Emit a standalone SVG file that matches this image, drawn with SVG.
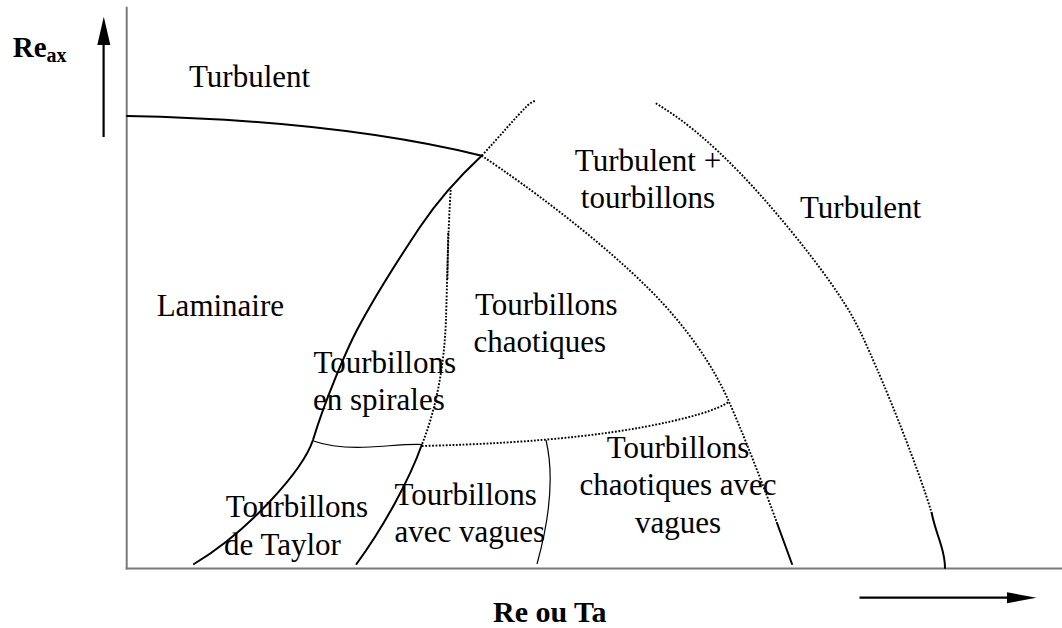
<svg xmlns="http://www.w3.org/2000/svg" width="1062" height="628" viewBox="0 0 1062 628">
  <style>
    .lbl { font-family: "Liberation Serif", "Times New Roman", serif; font-size: 31px; fill: #000; }
    .bold { font-family: "Liberation Serif", "Times New Roman", serif; font-weight: bold; fill: #000; }
    .mid { text-anchor: middle; }
    .axis { stroke: #7a7a7a; stroke-width: 2; fill: none; }
    .solid { stroke: #000; stroke-width: 2; fill: none; stroke-linecap: round; }
    .thin { stroke: #000; stroke-width: 1.2; fill: none; }
    .dot { stroke: #000; stroke-width: 1.9; fill: none; stroke-dasharray: 1.8 1.6; }
    .arrow { stroke: #000; stroke-width: 2.2; fill: none; }
  </style>

  <rect width="1062" height="628" fill="#fff"/>

  <!-- axes -->
  <g id="axes">
    <line class="axis" x1="126.7" y1="6.7" x2="126.7" y2="569.5"/>
    <line class="axis" x1="125.7" y1="568.5" x2="1062" y2="568.5"/>
  </g>

  <!-- direction arrows and axis titles -->
  <g id="y-axis-title">
    <line class="arrow" x1="103.6" y1="137" x2="103.6" y2="42"/>
    <polygon points="103.8,16.7 97.3,45 110.3,45" fill="#000"/>
    <text class="bold" x="12.7" y="56.7" font-size="29">Re<tspan font-size="20" dy="5">ax</tspan></text>
  </g>
  <g id="x-axis-title">
    <line class="arrow" x1="859.5" y1="597.7" x2="1010" y2="597.7"/>
    <polygon points="1036.5,597.7 1007,592.2 1007,603.2" fill="#000"/>
    <text class="bold" x="493" y="621.7" font-size="30">Re ou Ta</text>
  </g>

  <!-- regime boundaries -->
  <g id="connectors">
    <!-- laminar / turbulent -->
    <path class="solid" d="M127,116 C230,118 360,126 481.7,155.7"/>
    <!-- laminar / vortex regimes -->
    <path class="solid" d="M481.7,155.7 C462,174 440,197 420,227 C400,257 377,292 357,330 C347,349 325,400 313,440 C303,470 250,530 194,564"/>
    <!-- Taylor / wavy vortices -->
    <path class="solid" d="M421.7,445 C410,478 385,525 356.5,564"/>
    <!-- spiral / Taylor -->
    <path class="thin" d="M313.5,441 C330,447 350,448 370,447 C390,446 405,444 421.7,444.5"/>
    <!-- wavy / chaotic wavy -->
    <path class="thin" d="M546,440 C553,470 552,510 537,564"/>
    <!-- upper branch from the triple point -->
    <path class="dot" d="M481.7,155.7 C500,136 515,118 527,106 Q531,102 535,101"/>
    <!-- spiral / chaotic -->
    <path class="dot" d="M450.7,190 C448,230 447,290 446,318 C445,350 440,400 421.7,445"/>
    <path class="dot" stroke-width="2.8" d="M448.2,233 L447.4,280"/>
    <!-- chaotic / chaotic wavy -->
    <path class="dot" d="M421.7,446 C540,443 630,434 700,414 Q720,408 729,401.7"/>
    <!-- chaotic / turbulent + vortices -->
    <path class="dot" d="M481.7,155.7 C530,188 600,240 650,290 C690,330 715,370 729,401.7 C745,438 765,490 777,523"/>
    <path class="solid" d="M777,523 C782,537 787,550 792,564"/>
    <!-- turbulent + vortices / turbulent -->
    <path class="dot" d="M655.8,103.3 C685.8,121.3 710.8,143 740,173 C769.2,203 808.1,250.7 830.8,283 C853.5,315.3 859.2,328.4 876,366.7 C892.8,405 919.7,473 931.7,513"/>
    <path class="solid" d="M931.7,513 C934,525 938,535 941,545 C944,555 945,562 945,568"/>
  </g>

  <!-- regime labels -->
  <g id="turbulent-top">
    <text class="lbl" x="189" y="87.3">Turbulent</text>
  </g>
  <g id="turbulent-vortices">
    <text class="lbl mid" x="648" y="171">Turbulent +</text>
    <text class="lbl mid" x="648" y="208">tourbillons</text>
  </g>
  <g id="turbulent-right">
    <text class="lbl" x="800" y="218.3">Turbulent</text>
  </g>
  <g id="laminar">
    <text class="lbl" x="156.7" y="315.5">Laminaire</text>
  </g>
  <g id="chaotic-vortices">
    <text class="lbl" x="475" y="315">Tourbillons</text>
    <text class="lbl" x="473.6" y="351.7">chaotiques</text>
  </g>
  <g id="spiral-vortices">
    <text class="lbl" x="313.5" y="373">Tourbillons</text>
    <text class="lbl" x="313" y="410">en spirales</text>
  </g>
  <g id="taylor-vortices">
    <text class="lbl" x="225.7" y="516.7">Tourbillons</text>
    <text class="lbl" x="224" y="555">de Taylor</text>
  </g>
  <g id="wavy-vortices">
    <text class="lbl" x="394.4" y="505">Tourbillons</text>
    <text class="lbl" x="394.4" y="541.7">avec vagues</text>
  </g>
  <g id="chaotic-wavy-vortices">
    <text class="lbl mid" x="678" y="458">Tourbillons</text>
    <text class="lbl mid" x="678" y="495">chaotiques avec</text>
    <text class="lbl mid" x="678" y="533">vagues</text>
  </g>
</svg>
